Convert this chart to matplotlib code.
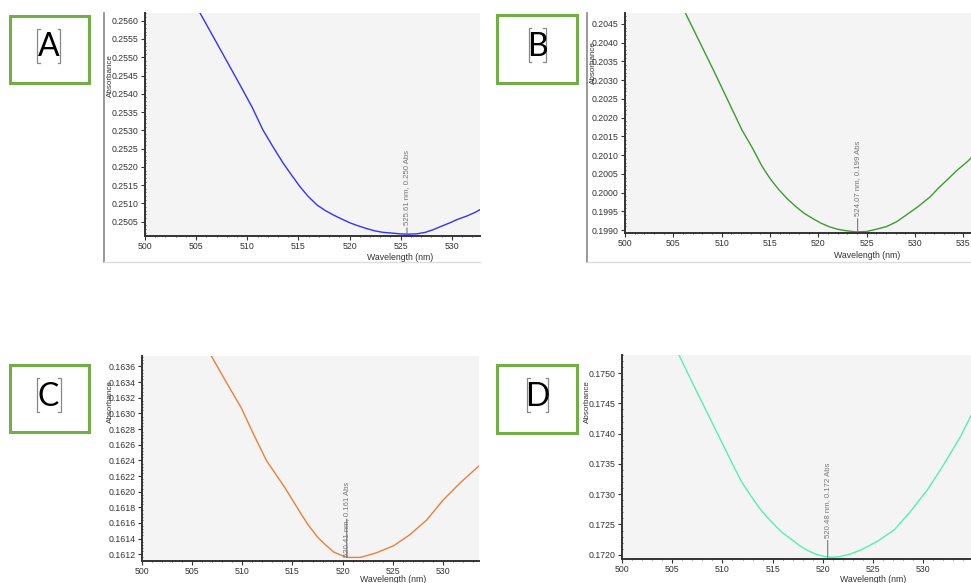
import matplotlib
matplotlib.use("Agg")
import matplotlib.pyplot as plt
from matplotlib.patches import Rectangle
from matplotlib.lines import Line2D
from matplotlib.ticker import MultipleLocator, FormatStrFormatter

W, H = 971, 583

# ---------------- data ----------------
wl_a = [505.38, 507.33, 509.29, 510.46, 511.53, 512.51, 513.49, 514.37, 515.15, 515.93,
        516.81, 517.6, 518.38, 519.26, 520.04, 520.82, 521.7, 522.48, 523.26, 524.14,
        524.93, 525.7, 526.6, 527.4, 528.15, 529.0, 529.8, 530.6, 531.5, 532.3, 532.75]
abs_a = [0.25621, 0.25523, 0.25424, 0.25364, 0.25301, 0.25255, 0.25211, 0.25176, 0.25146,
         0.2512, 0.25096, 0.25081, 0.25069, 0.25057, 0.25047, 0.25039, 0.25031, 0.25025,
         0.25021, 0.25019, 0.25017, 0.25016, 0.25017, 0.25021, 0.25028, 0.25038, 0.25047,
         0.25057, 0.25066, 0.25076, 0.25083]

wl_b = [506.25, 509.2, 512.1, 513.2, 514.2, 515.07, 515.94, 516.8, 517.7, 518.5, 519.4,
        520.3, 521.1, 522.0, 522.9, 523.9, 525.0, 526.0, 527.05, 528.1, 529.1, 530.3,
        531.6, 532.4, 533.3, 534.3, 535.4, 535.8]
abs_b = [0.20479, 0.20324, 0.20167, 0.20118, 0.20069, 0.20035, 0.20007, 0.19983, 0.19962,
         0.19945, 0.19931, 0.19918, 0.19909, 0.19902, 0.19898, 0.19895, 0.19896, 0.19902,
         0.19909, 0.19922, 0.1994, 0.19962, 0.19989, 0.20011, 0.20033, 0.20058, 0.20082,
         0.20092]

wl_c = [506.93, 508.4, 509.9, 511.1, 512.4, 514.2, 515.84, 516.6, 517.5, 518.3, 519.1,
        519.8, 520.5, 521.8, 523.4, 525.1, 526.7, 528.4, 530.0, 531.7, 533.6]
abs_c = [0.16373, 0.1634, 0.16307, 0.16274, 0.1624, 0.16206, 0.16172, 0.16157, 0.16142,
         0.16132, 0.16123, 0.16119, 0.16116, 0.16116, 0.16122, 0.16131, 0.16145, 0.16164,
         0.16189, 0.16211, 0.16233]

wl_d = [505.7, 507.1, 508.5, 509.9, 511.3, 512.0, 512.8, 513.6, 514.4, 515.2, 516.0,
        516.9, 517.7, 518.5, 519.3, 520.2, 520.9, 521.7, 522.7, 523.8, 525.4, 527.1,
        528.7, 530.4, 532.0, 533.7, 534.75]
abs_d = [0.17529, 0.17481, 0.17434, 0.17387, 0.1734, 0.17318, 0.17298, 0.17279, 0.17263,
         0.17249, 0.17236, 0.17225, 0.17215, 0.17207, 0.17201, 0.17197, 0.17196, 0.17197,
         0.17201, 0.17208, 0.17222, 0.17241, 0.17271, 0.17307, 0.17348, 0.17395, 0.1743]

peak_nm = [525.61, 524.07, 520.41, 520.48]
peak_abs = [0.250, 0.199, 0.161, 0.172]
panel_letters = ["A", "B", "C", "D"]
line_colors = ["#3333ff", "#3f9a34", "#e8813a", "#55f0b0"]
x_limits = [(500, 532.75), (500, 535.8), (500, 533.6), (500, 534.75)]
y_limits = [(0.25011, 0.25621), (0.19892, 0.20479), (0.161114, 0.163734), (0.17193, 0.1753)]
y_steps = [0.0005, 0.0005, 0.0002, 0.0005]
x_label = "Wavelength (nm)"
y_label = "Absorbance"

series = [(wl_a, abs_a), (wl_b, abs_b), (wl_c, abs_c), (wl_d, abs_d)]

# ---------------- layout (pixels) ----------------
axes_px = [(145, 13, 480, 236), (625, 13, 971, 233), (142, 356, 479, 561), (622, 355, 971, 559)]
box_px = [(10, 16, 89, 83), (497, 15, 577, 83), (10, 365, 89, 432), (497, 365, 577, 433)]
letter_cx = [48.5, 537, 48.5, 537.5]
bracket_half = [11.5, 8.5, 12, 10.5]
ylab_px = [(110, 76), (593, 63), (110, 402), (587, 402)]
xlab_px = [(400, 257), (867, 255), (393, 580), (873, 580)]
ann_off = [6.5, 11.5, 0.5, 14]  # annotation text offset in points above the minimum

FONT = "Liberation Sans"
plt.rcParams['font.family'] = [FONT, 'DejaVu Sans']

fig = plt.figure(figsize=(W / 100, H / 100), dpi=100)
fig.patch.set_facecolor("white")


def fx(x):
    return x / W


def fy(y):
    return 1 - y / H


for i in range(4):
    x0, y0, x1, y1 = axes_px[i]
    ax = fig.add_axes([fx(x0), fy(y1), (x1 - x0) / W, (y1 - y0) / H])
    ax.set_facecolor("#f4f4f4")
    wl, ab = series[i]
    ax.plot(wl, ab, color=line_colors[i], lw=1.0, solid_joinstyle="round")
    ax.set_xlim(*x_limits[i])
    ax.set_ylim(*y_limits[i])
    ax.xaxis.set_major_locator(MultipleLocator(5))
    ax.xaxis.set_minor_locator(MultipleLocator(1))
    ax.yaxis.set_major_locator(MultipleLocator(y_steps[i]))
    ax.yaxis.set_minor_locator(MultipleLocator(y_steps[i] / 5))
    ax.yaxis.set_major_formatter(FormatStrFormatter("%.4f"))
    for s in ["top", "right"]:
        ax.spines[s].set_visible(False)
    for s in ["left", "bottom"]:
        ax.spines[s].set_color("#333333")
        ax.spines[s].set_linewidth(1.4)
    ax.tick_params(axis="both", which="major", length=3, width=0.8, color="#333333",
                   labelsize=6.3, labelcolor="#333333", pad=1.5)
    ax.tick_params(axis="both", which="minor", length=2, width=0.6, color="#444444",
                   direction="inout")
    ax.annotate(f"{peak_nm[i]:.2f} nm, {peak_abs[i]:.3f} Abs",
                xy=(peak_nm[i], min(ab)), xytext=(0, ann_off[i]),
                textcoords="offset points", rotation=90, ha="center", va="bottom",
                fontsize=5.6, color="#777777",
                arrowprops=dict(arrowstyle="-", color="#777777", lw=0.8,
                                shrinkA=0, shrinkB=0))
    fig.text(fx(ylab_px[i][0]), fy(ylab_px[i][1]), y_label, rotation=90,
             ha="center", va="center", fontsize=5.8, color="#333333")
    fig.text(fx(xlab_px[i][0]), fy(xlab_px[i][1]), x_label,
             ha="center", va="center", fontsize=6.3, color="#333333")

# outer frame lines for top panels
for (xl, yt, xr, yb) in [(104, 13, 480, 262), (587, 13, 971, 262)]:
    fig.add_artist(Line2D([fx(xl), fx(xl)], [fy(yt), fy(yb)], color="#888888", lw=1.2,
                          transform=fig.transFigure))
    fig.add_artist(Line2D([fx(xl), fx(xr)], [fy(yb), fy(yb)], color="#dddddd", lw=1.0,
                          transform=fig.transFigure))

# letter boxes with bracketed panel letters
for i in range(4):
    bx0, by0, bx1, by1 = box_px[i]
    fig.add_artist(Rectangle((fx(bx0), fy(by1)), (bx1 - bx0) / W, (by1 - by0) / H,
                             transform=fig.transFigure, fill=False,
                             edgecolor="#72ad47", lw=2.2))
    cx = letter_cx[i]
    fig.text(fx(cx), fy(by0 + 40.5), panel_letters[i], ha="center", va="baseline",
             fontsize=23, color="black", family=["Lato", "DejaVu Sans"])
    top, bot = by0 + 12.5, by0 + 47
    for side in (-1, 1):
        bxp = cx + side * bracket_half[i]
        serif = -side * 2.5
        fig.add_artist(Line2D([fx(bxp + serif), fx(bxp), fx(bxp), fx(bxp + serif)],
                              [fy(top), fy(top), fy(bot), fy(bot)],
                              color="#888888", lw=0.9, transform=fig.transFigure))

fig.savefig("out.png", dpi=100)
